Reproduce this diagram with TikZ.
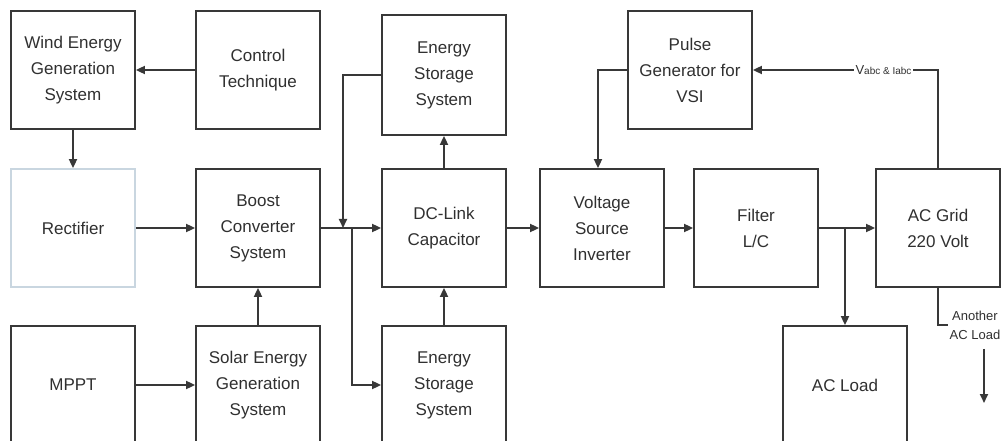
\documentclass[tikz,border=0pt]{standalone}
\usepackage{fontspec}
\setmainfont{Liberation Sans}
\usetikzlibrary{arrows.meta,calc}
\definecolor{ln}{HTML}{383838}
\definecolor{tx}{HTML}{303030}
\definecolor{rb}{HTML}{C9D6E0}
\begin{document}
\begin{tikzpicture}[x=1pt,y=-1pt,
  blk/.style={draw=ln, line width=1.8pt, minimum width=124pt, minimum height=118pt,
    align=center, font=\fontsize{17}{26}\selectfont, text=tx, inner sep=0pt},
  conn/.style={draw=ln, line width=1.8pt},
  arr/.style={conn, -{Triangle[length=9pt,width=8pt]}},
  lbl/.style={text=tx, inner sep=1.5pt, align=center}]
\useasboundingbox (0,0) rectangle (1005,441);
\clip (0,0) rectangle (1005,441);
\fill[white] (0,0) rectangle (1005,441);
% top row
\node[blk] (wind) at (73,70) {Wind Energy\\Generation\\System};
\node[blk] (ctrl) at (258,70) {Control\\Technique};
\node[blk, minimum height=120pt] (essT) at (444,75) {Energy\\Storage\\System};
\node[blk] (pulse) at (690,70) {Pulse\\Generator for\\VSI};
% middle row
\node[blk, draw=rb] (rect) at (73,228) {Rectifier};
\node[blk] (boost) at (258,228) {Boost\\Converter\\System};
\node[blk] (dc) at (444,228) {DC-Link\\Capacitor};
\node[blk] (vsi) at (602,228) {Voltage\\Source\\Inverter};
\node[blk] (filter) at (756,228) {Filter\\L/C};
\node[blk] (grid) at (938,228) {AC Grid\\220 Volt};
% bottom row
\node[blk] (mppt) at (73,385) {MPPT};
\node[blk] (solar) at (258,385) {Solar Energy\\Generation\\System};
\node[blk] (essB) at (444,385) {Energy\\Storage\\System};
\node[blk] (acload) at (845,385) {AC Load};
% labels
\node[lbl] (vlab) at (883.5,70) {\fontsize{13}{13}\selectfont V\fontsize{10}{10}\selectfont abc \& Iabc};
\node[lbl, font=\fontsize{13}{19}\selectfont] (another) at (975,325) {Another\\AC Load};
% junctions
\coordinate (j1) at (343,228);
\coordinate (j2) at (352,228);
\coordinate (j3) at (845,228);
\coordinate (aend) at (984,403);
% connectors
\draw[arr] (ctrl.west) -- (wind.east);
\draw[arr] (wind.south) -- (rect.north);
\draw[arr] (rect.east) -- (boost.west);
\draw[arr] (mppt.east) -- (solar.west);
\draw[arr] (solar.north) -- (boost.south);
\draw[arr] (boost.east) -- (dc.west);
\draw[arr] (essT.west) -| (j1);
\draw[arr] (j2) |- (essB.west);
\draw[arr] (dc.north) -- (essT.south);
\draw[arr] (essB.north) -- (dc.south);
\draw[arr] (dc.east) -- (vsi.west);
\draw[arr] (pulse.west) -| ([xshift=-4pt]vsi.north);
\draw[arr] (vsi.east) -- (filter.west);
\draw[arr] (filter.east) -- (grid.west);
\draw[arr] (j3) -- (acload.north);
\draw[conn] (grid.north) |- (vlab.east);
\draw[arr] (vlab.west) -- (pulse.east);
\draw[conn] (grid.south) |- (another.west);
\draw[arr] ([yshift=-8pt]another.south -| aend) -- (aend);
\end{tikzpicture}
\end{document}
